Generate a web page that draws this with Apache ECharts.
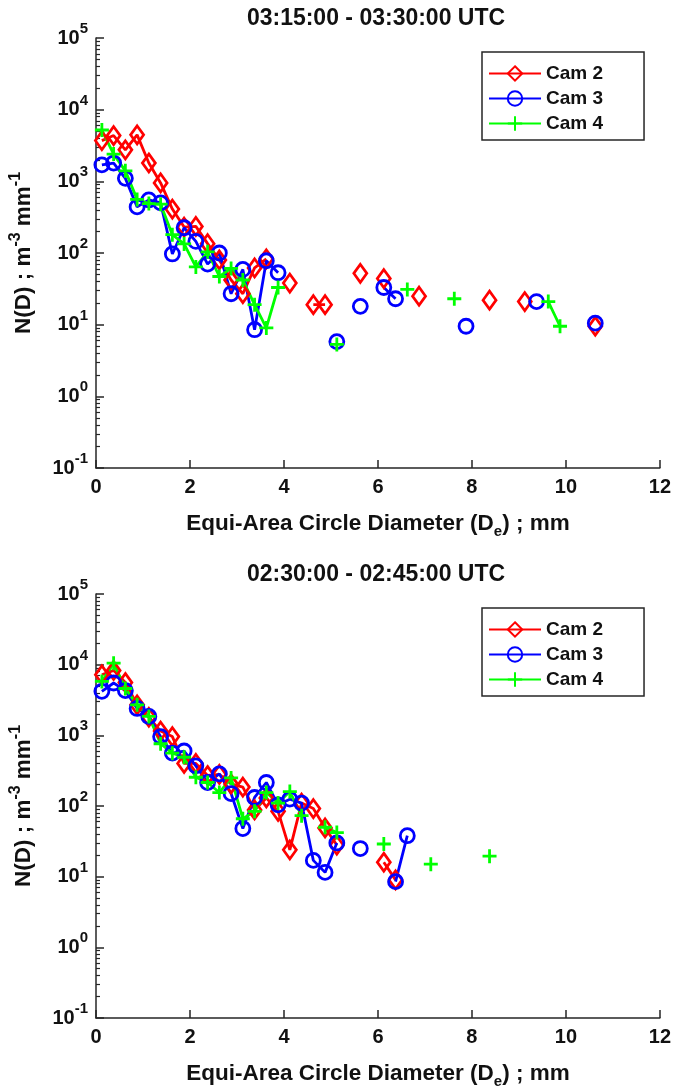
<!DOCTYPE html>
<html>
<head>
<meta charset="utf-8">
<script src="https://cdn.jsdelivr.net/npm/echarts@6/dist/echarts.min.js"></script>
<style>
html,body{margin:0;padding:0;background:#ffffff;}
#chart{width:674px;height:1090px;}
</style>
</head>
<body>
<div id="chart"></div>
<script>
// ---- data ----
const diameters = [0.125,0.375,0.625,0.875,1.125,1.375,1.625,1.875,2.125,2.375,2.625,2.875,3.125,3.375,3.625,3.875,
  4.125,4.375,4.625,4.875,5.125,5.375,5.625,5.875,6.125,6.375,6.625,6.875,7.125,7.375,7.625,7.875,
  8.125,8.375,8.625,8.875,9.125,9.375,9.625,9.875,10.125,10.375,10.625];

const panelTitles = ['03:15:00 - 03:30:00 UTC', '02:30:00 - 02:45:00 UTC'];
const cameraNames = ['Cam 2', 'Cam 3', 'Cam 4'];
const xTickValues = [0, 2, 4, 6, 8, 10, 12];
const yTickExponents = [-1, 0, 1, 2, 3, 4, 5];

// Panel 1: 03:15 - 03:30 UTC  (N(D), m^-3 mm^-1; null = no value)
const p1Cam2 = [3700,4350,2750,4450,1800,950,410,230,235,135,80,42,27,62,83,null,
  38,null,19,19,null,null,52,null,44,null,null,25,null,null,null,null,
  null,22,null,null,21,null,null,null,null,null,9.5];
const p1Cam3 = [1700,1800,1100,440,550,500,97,225,145,70,100,27,59,8.5,78,53,
  null,null,null,null,5.8,null,18,null,33,23,null,null,null,null,null,9.5,
  null,null,null,null,null,21,null,null,null,null,10.5];
const p1Cam4 = [5200,2400,1400,560,490,480,180,134,64,104,47,61,42,19,9,33,
  null,null,null,null,5.3,null,null,null,null,null,31,null,null,null,23,null,
  null,null,null,null,null,null,21,9.5];

// Panel 2: 02:30 - 02:45 UTC
const p2Cam2 = [7200,8300,5600,2700,1800,1150,960,400,400,270,280,205,185,88,130,84,
  24,110,92,49,28,null,null,null,16,9];
const p2Cam3 = [4200,5500,4300,2400,1850,960,560,600,370,215,285,150,48,132,215,104,
  125,110,17,11.5,30,null,25,null,null,8.5,38];
const p2Cam4 = [5800,10500,4600,2700,1850,760,560,490,255,215,155,250,66,84,155,110,
  160,73,null,50,42,null,null,null,29,null,null,null,15,null,null,null,
  null,19.5];

const panelSeries = [[p1Cam2, p1Cam3, p1Cam4], [p2Cam2, p2Cam3, p2Cam4]];

// ---- styling ----
const FONT = '"Liberation Sans", Arial, Helvetica, sans-serif';
const AXIS_COLOR = '#262626';
const TEXT_COLOR = '#111111';
const camColors = ['#ff0000', '#0000ff', '#00ff00'];
const camSymbols = ['path://M0,-1L1,0L0,1L-1,0Z', 'circle', 'path://M0,-1L0,1M-1,0L1,0'];
const camSymbolSizes = [[13, 18], [14, 14], [14, 14]];

const gridTops = [38, 594];
const gridHeight = 430;

// minor ticks for log axis, expressed in decades on an overlaid linear axis
const minorTickDecades = [];
for (let e = -1; e < 5; e++) {
  for (let k = 2; k <= 9; k++) minorTickDecades.push(e + Math.log10(k));
}

const grids = [], xAxes = [], yAxes = [], series = [], titles = [], legends = [];

gridTops.forEach((top, p) => {
  grids.push({left: 92, right: 13, top: top, height: gridHeight, containLabel: false});

  titles.push({
    text: panelTitles[p], left: 376, top: top - 31, textAlign: 'center', padding: 0,
    textStyle: {fontFamily: FONT, fontSize: 23, fontWeight: 'bold', color: TEXT_COLOR}
  });

  xAxes.push({
    gridIndex: p, type: 'value', min: xTickValues[0], max: xTickValues[xTickValues.length - 1], interval: 2,
    name: '{t|Equi-Area Circle Diameter (D}{sub|e}{t|) ; mm}',
    nameLocation: 'middle', nameGap: 40,
    nameTextStyle: {
      rich: {
        t: {fontFamily: FONT, fontSize: 22.5, fontWeight: 'bold', color: TEXT_COLOR},
        sub: {fontFamily: FONT, fontSize: 15, fontWeight: 'bold', color: TEXT_COLOR, padding: [16, 0, 0, 0]}
      }
    },
    axisLine: {onZero: false, lineStyle: {color: AXIS_COLOR, width: 1.5}},
    axisTick: {inside: true, length: 8, lineStyle: {color: AXIS_COLOR, width: 1.5}},
    axisLabel: {fontFamily: FONT, fontSize: 20, fontWeight: 'bold', color: TEXT_COLOR, margin: 9,
      showMinLabel: true, showMaxLabel: true},
    splitLine: {show: false}
  });

  yAxes.push({
    gridIndex: p, type: 'log', logBase: 10,
    min: Math.pow(10, yTickExponents[0]), max: Math.pow(10, yTickExponents[yTickExponents.length - 1]),
    interval: 1, splitNumber: 6, position: 'left',
    name: '{t|N(D) ; m}{s|-3}{t| mm}{s|-1}',
    nameLocation: 'middle', nameGap: 56, nameRotate: 90,
    nameTextStyle: {
      rich: {
        t: {fontFamily: FONT, fontSize: 22.5, fontWeight: 'bold', color: TEXT_COLOR},
        s: {fontFamily: FONT, fontSize: 16, fontWeight: 'bold', color: TEXT_COLOR, padding: [0, 0, 16, 0]}
      }
    },
    axisLine: {onZero: false, lineStyle: {color: AXIS_COLOR, width: 1.5}},
    axisTick: {inside: true, length: 8, lineStyle: {color: AXIS_COLOR, width: 1.5}},
    axisLabel: {
      margin: 8,
      formatter: function (v) {
        const e = Math.round(Math.log10(v));
        return '{b|10}{s|' + e + '}';
      },
      rich: {
        b: {fontFamily: FONT, fontSize: 20, fontWeight: 'bold', color: TEXT_COLOR},
        s: {fontFamily: FONT, fontSize: 15, fontWeight: 'bold', color: TEXT_COLOR, padding: [0, 0, 18, 0]}
      }
    },
    splitLine: {show: false}
  });
  // overlaid linear axis (in decades) carrying the log minor ticks
  yAxes.push({
    gridIndex: p, type: 'value', min: yTickExponents[0], max: yTickExponents[yTickExponents.length - 1],
    interval: 1, position: 'left',
    axisLine: {show: false, onZero: false}, axisLabel: {show: false}, splitLine: {show: false},
    axisTick: {show: true, inside: true, length: 4, customValues: minorTickDecades,
      lineStyle: {color: AXIS_COLOR, width: 1.2}}
  });

  legends.push({
    data: cameraNames, orient: 'vertical', left: 482, top: top + 14,
    itemWidth: 52, itemHeight: 18, itemGap: 6, padding: [12, 41, 7, 6],
    borderColor: AXIS_COLOR, borderWidth: 1.5, borderRadius: 0, backgroundColor: '#ffffff',
    selectedMode: false,
    textStyle: {fontFamily: FONT, fontSize: 19, fontWeight: 'bold', color: TEXT_COLOR}
  });

  panelSeries[p].forEach((vals, c) => {
    series.push({
      type: 'line', name: cameraNames[c], xAxisIndex: p, yAxisIndex: p * 2,
      data: diameters.map((d, i) => [d, vals[i] == null ? null : vals[i]]),
      connectNulls: false,
      symbol: camSymbols[c], symbolSize: camSymbolSizes[c], showSymbol: true,
      lineStyle: {color: camColors[c], width: 2.8},
      itemStyle: {color: 'rgba(255,255,255,0)', borderColor: camColors[c], borderWidth: 2.8},
      emphasis: {disabled: true},
      animation: false
    });
  });
});

const chart = echarts.init(document.getElementById('chart'), null, {renderer: 'canvas'});
chart.setOption({
  backgroundColor: '#ffffff',
  animation: false,
  title: titles,
  legend: legends,
  grid: grids,
  xAxis: xAxes,
  yAxis: yAxes,
  series: series
});
</script>
</body>
</html>
